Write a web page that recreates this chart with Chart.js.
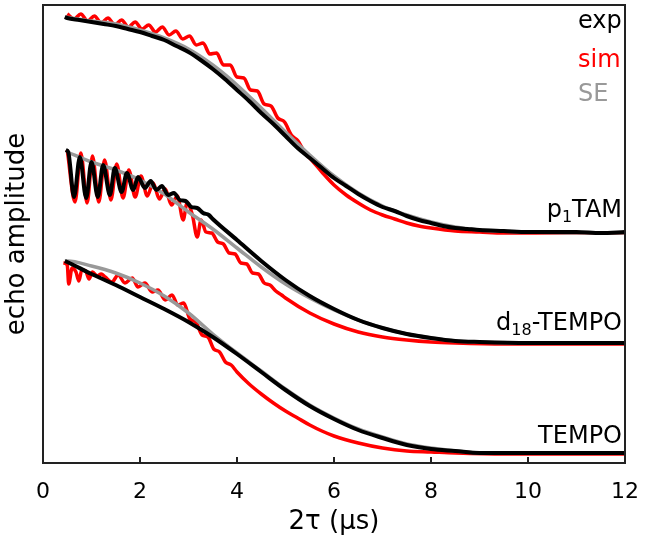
<!DOCTYPE html>
<html>
<head>
<meta charset="utf-8">
<script src="https://cdn.jsdelivr.net/npm/chart.js@4.4.1/dist/chart.umd.min.js"></script>
<style>
  html, body { margin: 0; padding: 0; background: #fff; }
  #wrap { width: 648px; height: 549px; }
</style>
</head>
<body>
<div id="wrap"><canvas id="echoChart"></canvas></div>
<script>
// echo decay traces, x = 2tau (us), y = echo amplitude (arb. units, offset per sample)
const xTicks = [0, 2, 4, 6, 8, 10, 12];

// p1TAM
const tamExp = [[0.45,4.46],[0.5,4.45],[0.75,4.43],[1.0,4.41],[1.25,4.39],[1.5,4.37],[1.75,4.34],[2.0,4.31],[2.25,4.27],[2.5,4.23],[2.75,4.17],[3.0,4.11],[3.25,4.03],[3.5,3.94],[3.75,3.84],[4.0,3.73],[4.25,3.62],[4.5,3.50],[4.75,3.39],[5.0,3.27],[5.25,3.15],[5.5,3.05],[5.75,2.95],[6.0,2.85],[6.25,2.77],[6.5,2.69],[6.75,2.62],[7.0,2.56],[7.25,2.52],[7.5,2.47],[7.75,2.43],[8.0,2.40],[8.25,2.37],[8.5,2.35],[8.75,2.34],[9.0,2.33],[9.5,2.32],[10,2.31],[10.5,2.31],[11,2.31],[11.5,2.30],[12,2.31]];
const tamSim = [[0.5,4.49],[0.64,4.44],[0.78,4.49],[0.92,4.42],[1.06,4.47],[1.2,4.40],[1.34,4.45],[1.48,4.38],[1.62,4.43],[1.76,4.36],[1.9,4.41],[2.04,4.34],[2.18,4.38],[2.32,4.31],[2.46,4.36],[2.6,4.28],[2.74,4.32],[2.88,4.24],[3.02,4.27],[3.16,4.18],[3.3,4.20],[3.44,4.09],[3.58,4.10],[3.72,3.98],[3.86,3.98],[4.0,3.86],[4.14,3.85],[4.28,3.73],[4.42,3.72],[4.56,3.59],[4.7,3.57],[4.84,3.45],[4.98,3.41],[5.12,3.28],[5.26,3.22],[5.4,3.10],[5.5,3.05],[5.75,2.91],[6.0,2.78],[6.25,2.68],[6.5,2.60],[6.75,2.53],[7.0,2.48],[7.25,2.44],[7.5,2.40],[7.75,2.37],[8.0,2.35],[8.5,2.32],[9.0,2.31],[9.5,2.30],[12,2.30]];
const tamSE = [[0.45,4.46],[1.0,4.42],[1.5,4.39],[2.0,4.33],[2.5,4.25],[3.0,4.14],[3.5,3.98],[4.0,3.78],[4.5,3.55],[5.0,3.31],[5.5,3.08],[6.0,2.87],[6.5,2.70],[7.0,2.57],[7.5,2.48],[8.0,2.41],[8.5,2.36],[9.0,2.33],[10,2.31],[11,2.30],[12,2.30]];

// d18-TEMPO
const d18Exp = [[0.47,3.13],[0.52,3.11],[0.64,2.66],[0.76,3.06],[0.89,2.65],[1.0,3.01],[1.13,2.66],[1.24,2.98],[1.38,2.68],[1.48,2.95],[1.62,2.71],[1.73,2.90],[1.86,2.73],[1.96,2.86],[2.1,2.75],[2.22,2.82],[2.34,2.73],[2.45,2.77],[2.58,2.68],[2.7,2.70],[2.82,2.63],[2.94,2.62],[3.06,2.56],[3.18,2.55],[3.3,2.50],[3.42,2.48],[3.5,2.44],[4.0,2.23],[4.5,2.02],[5.0,1.83],[5.5,1.67],[6.0,1.54],[6.5,1.43],[7.0,1.35],[7.5,1.29],[8.0,1.25],[8.5,1.22],[9.0,1.21],[10,1.20],[11,1.20],[12,1.20]];
const d18Sim = [[0.5,3.13],[0.66,2.61],[0.78,3.10],[0.91,2.60],[1.02,3.07],[1.15,2.61],[1.27,3.03],[1.4,2.63],[1.52,2.99],[1.65,2.65],[1.77,2.93],[1.9,2.66],[2.02,2.87],[2.15,2.67],[2.27,2.80],[2.4,2.64],[2.52,2.74],[2.65,2.58],[2.77,2.67],[2.89,2.43],[2.97,2.60],[3.08,2.48],[3.18,2.26],[3.26,2.43],[3.36,2.31],[3.48,2.30],[3.6,2.21],[3.72,2.19],[3.84,2.10],[3.96,2.09],[4.08,2.00],[4.2,1.99],[4.32,1.90],[4.44,1.89],[4.56,1.80],[4.68,1.78],[4.8,1.72],[4.92,1.68],[5.0,1.65],[5.5,1.50],[6.0,1.39],[6.5,1.31],[7.0,1.26],[7.5,1.23],[8.0,1.21],[8.5,1.20],[9.5,1.19],[12,1.19]];
const d18SE = [[0.5,3.11],[1.0,3.01],[1.5,2.93],[2.0,2.83],[2.5,2.69],[3.0,2.51],[3.5,2.34],[4.0,2.15],[4.5,1.96],[5.0,1.79],[5.5,1.65],[6.0,1.53],[6.5,1.43],[7.0,1.35],[7.5,1.29],[8.0,1.25],[8.5,1.22],[9.0,1.21],[10,1.20],[12,1.20]];

// TEMPO
const tempoExp = [[0.45,2.02],[0.5,2.01],[1.0,1.89],[1.5,1.78],[2.0,1.66],[2.5,1.54],[3.0,1.41],[3.5,1.26],[4.0,1.09],[4.5,0.91],[5.0,0.73],[5.5,0.57],[6.0,0.44],[6.5,0.33],[7.0,0.25],[7.5,0.18],[8.0,0.14],[8.5,0.12],[9.0,0.10],[10,0.10],[11,0.10],[12,0.10]];
const tempoSim = [[0.42,2.00],[0.5,1.98],[0.53,1.79],[0.6,1.95],[0.68,1.91],[0.74,1.82],[0.8,1.93],[0.88,1.92],[0.95,1.84],[1.02,1.91],[1.12,1.87],[1.2,1.89],[1.28,1.86],[1.42,1.81],[1.55,1.88],[1.69,1.80],[1.84,1.85],[1.96,1.76],[2.1,1.80],[2.25,1.71],[2.37,1.73],[2.52,1.63],[2.66,1.68],[2.78,1.58],[2.9,1.60],[3.03,1.44],[3.15,1.41],[3.28,1.28],[3.4,1.26],[3.52,1.14],[3.64,1.11],[3.76,1.01],[3.88,0.98],[4.0,0.91],[4.25,0.79],[4.5,0.69],[4.75,0.60],[5.0,0.52],[5.25,0.45],[5.5,0.38],[5.75,0.32],[6.0,0.27],[6.5,0.20],[7.0,0.15],[7.5,0.12],[8.0,0.11],[8.5,0.10],[9.5,0.09],[12,0.09]];
const tempoSE = [[0.45,2.02],[0.5,2.02],[1.0,1.97],[1.5,1.90],[2.0,1.80],[2.5,1.67],[3.0,1.50],[3.5,1.29],[4.0,1.10],[4.5,0.92],[5.0,0.74],[5.5,0.58],[6.0,0.45],[6.5,0.34],[7.0,0.26],[7.5,0.19],[8.0,0.15],[8.5,0.12],[9.0,0.10],[12,0.10]];

const FONT = '"DejaVu Sans", Verdana, sans-serif';
const EXP_COLOR = '#000000';
const SIM_COLOR = '#ff0000';
const SE_COLOR = '#999999';

const toPoints = arr => arr.map(([x, y]) => ({ x, y }));

function trace(data, color, width, order) {
    return {
        data: toPoints(data),
        borderColor: color,
        borderWidth: width,
        pointRadius: 0,
        fill: false,
        cubicInterpolationMode: 'monotone',
        order: order
    };
}

// draws text runs (normal + subscript) right aligned
function drawRuns(ctx, runs, right, baseline, size, color) {
    ctx.fillStyle = color;
    ctx.textBaseline = 'alphabetic';
    ctx.textAlign = 'left';
    let total = 0;
    runs.forEach(r => {
        ctx.font = (r.sub ? Math.round(size * 0.65) : size) + 'px ' + FONT;
        r.w = ctx.measureText(r.t).width;
        total += r.w;
    });
    let x = right - total;
    runs.forEach(r => {
        ctx.font = (r.sub ? Math.round(size * 0.65) : size) + 'px ' + FONT;
        ctx.fillText(r.t, x, baseline + (r.sub ? size * 0.22 : 0));
        x += r.w;
    });
}

const framePlugin = {
    id: 'frame',
    afterDraw(chart) {
        const ctx = chart.ctx;
        const a = chart.chartArea;
        const xs = chart.scales.x;
        ctx.save();
        // box
        ctx.strokeStyle = '#222';
        ctx.lineWidth = 2;
        ctx.strokeRect(a.left, a.top, a.right - a.left, a.bottom - a.top);
        // inward ticks
        xTicks.forEach(v => {
            const px = xs.getPixelForValue(v);
            ctx.beginPath();
            ctx.moveTo(px, a.bottom);
            ctx.lineTo(px, a.bottom - 6);
            ctx.stroke();
        });
        // legend words
        ctx.font = '24px ' + FONT;
        ctx.textAlign = 'left';
        ctx.textBaseline = 'alphabetic';
        ctx.fillStyle = EXP_COLOR; ctx.fillText('exp', a.right - 47, 28);
        ctx.fillStyle = SIM_COLOR; ctx.fillText('sim', a.right - 47, 67);
        ctx.fillStyle = SE_COLOR; ctx.fillText('SE', a.right - 47, 101);
        // sample labels
        drawRuns(ctx, [{ t: 'p' }, { t: '1', sub: true }, { t: 'TAM' }], a.right - 3, 217, 24, '#000');
        drawRuns(ctx, [{ t: 'd' }, { t: '18', sub: true }, { t: '-TEMPO' }], a.right - 3, 330, 24, '#000');
        drawRuns(ctx, [{ t: 'TEMPO' }], a.right - 3, 443, 24, '#000');
        ctx.restore();
    }
};

new Chart(document.getElementById('echoChart'), {
    type: 'line',
    data: {
        datasets: [
            trace(tamExp, EXP_COLOR, 4, 0),
            trace(tamSE, SE_COLOR, 3.5, 1),
            trace(tamSim, SIM_COLOR, 3.5, 2),
            trace(d18Exp, EXP_COLOR, 4, 0),
            trace(d18SE, SE_COLOR, 3.5, 1),
            trace(d18Sim, SIM_COLOR, 3.5, 2),
            trace(tempoExp, EXP_COLOR, 4, 0),
            trace(tempoSE, SE_COLOR, 3.5, 1),
            trace(tempoSim, SIM_COLOR, 3.5, 2)
        ]
    },
    options: {
        responsive: true,
        maintainAspectRatio: false,
        animation: false,
        layout: { padding: { top: 5, right: 23, left: 0, bottom: 0 } },
        plugins: {
            legend: { display: false },
            tooltip: { enabled: false }
        },
        scales: {
            x: {
                type: 'linear',
                min: 0,
                max: 12,
                afterFit: s => { s.height = 86; },
                afterBuildTicks: s => { s.ticks = xTicks.map(v => ({ value: v })); },
                grid: { display: false },
                border: { display: false },
                ticks: { color: '#000', font: { family: FONT, size: 22 }, padding: 8, maxRotation: 0 },
                title: { display: true, text: '2τ (µs)', color: '#000', font: { family: FONT, size: 26 }, padding: { top: 0, bottom: 11 } }
            },
            y: {
                type: 'linear',
                min: 0,
                max: 4.58,
                afterFit: s => { s.width = 43; },
                grid: { display: false },
                border: { display: false },
                ticks: { display: false },
                title: { display: true, text: 'echo amplitude', color: '#000', font: { family: FONT, size: 26 }, padding: { top: 2, bottom: 0 } }
            }
        }
    },
    plugins: [framePlugin]
});
</script>
</body>
</html>
